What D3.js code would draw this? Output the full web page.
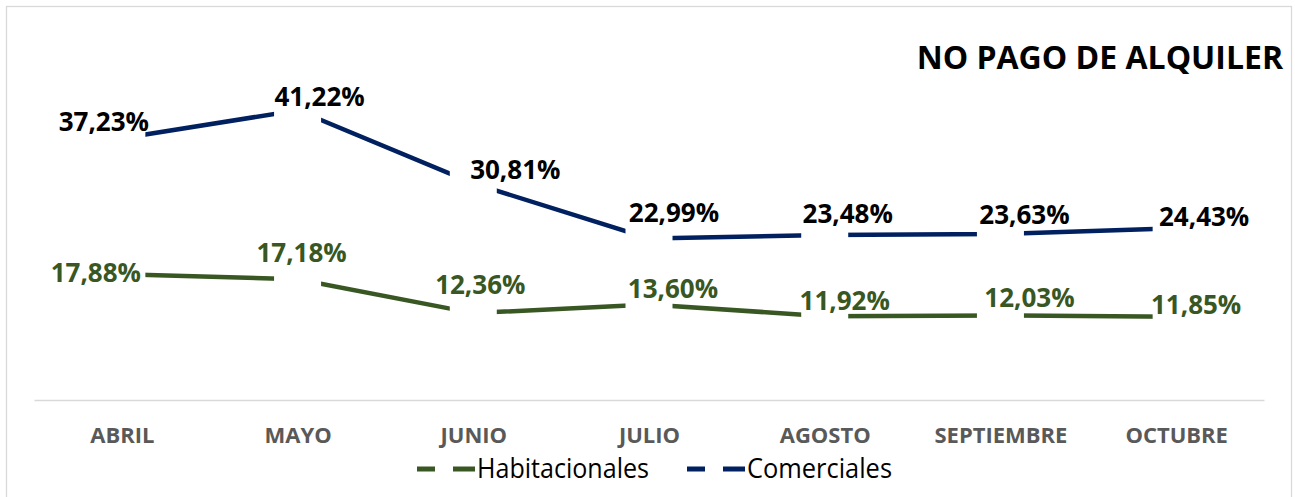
<!DOCTYPE html>
<html>
<head>
<meta charset="utf-8">
<script src="https://cdn.jsdelivr.net/npm/d3@7"></script>
<style>
  body { margin: 0; background: #fff; }
  svg { display: block; }
</style>
</head>
<body>
<div id="chart"></div>
<script>
// data
const months = ["ABRIL", "MAYO", "JUNIO", "JULIO", "AGOSTO", "SEPTIEMBRE", "OCTUBRE"]
const habitacionales = [17.88, 17.18, 12.36, 13.60, 11.92, 12.03, 11.85]
const comerciales = [37.23, 41.22, 30.81, 22.99, 23.48, 23.63, 24.43]
const seriesNames = ["Habitacionales", "Comerciales"]
const title = "NO PAGO DE ALQUILER"

// label placement (dx, dy from the point), moved by hand like in the original
const habLabelOffsets = [[-26, 8], [4, -17], [7, -19], [24, -6], [20, -6], [29, -8], [20, -3]]
const comLabelOffsets = [[-18, -7], [22, -4], [42, -4], [25, -16], [23, -12], [24, -10], [28, -2]]

const colors = { Habitacionales: "#385723", Comerciales: "#002060" }

const width = 1295
const height = 497

const svg = d3.select("#chart")
  .append("svg")
  .attr("width", width)
  .attr("height", height)

// chart frame
svg.append("rect")
  .attr("x", 6.5)
  .attr("y", 6.5)
  .attr("width", 1285)
  .attr("height", 520)
  .attr("fill", "#fff")
  .attr("stroke", "#d9d9d9")
  .attr("stroke-width", 1.3)

const xScale = d3.scalePoint()
  .domain(months)
  .range([34, 1264])
  .padding(0.5)

const yScale = d3.scaleLinear()
  .domain([0, 50])
  .range([400, 48.5])

const es = d3.formatLocale({ decimal: ",", thousands: ".", grouping: [3], currency: ["", "€"] })
const fmt = v => es.format(".2f")(v) + "%"

// x axis
const xAxis = svg.append("g")
  .attr("transform", "translate(0, 400)")
  .call(d3.axisBottom(xScale).tickSize(0).tickSizeOuter(0))
xAxis.select(".domain")
  .attr("stroke", "#d9d9d9")
  .attr("stroke-width", 1.5)
xAxis.selectAll("text")
  .attr("fill", "#595959")
  .style("font-family", "'Open Sans', sans-serif")
  .style("font-weight", "bold")
  .style("font-size", "22px")
  .attr("dy", "0")
  .attr("y", 43)

const series = [
  { name: "Habitacionales", values: habitacionales, offsets: habLabelOffsets },
  { name: "Comerciales", values: comerciales, offsets: comLabelOffsets },
]

const lineGenerator = d3.line()
  .x((d, i) => xScale(months[i]))
  .y(d => yScale(d))

series.forEach(s => {
  svg.append("path")
    .attr("d", lineGenerator(s.values))
    .attr("fill", "none")
    .attr("stroke", colors[s.name])
    .attr("stroke-width", 4.5)
})

// white square markers break the line around each point
const markerSize = 47
series.forEach(s => {
  svg.append("g")
    .selectAll("rect")
    .data(s.values)
    .join("rect")
    .attr("x", (d, i) => xScale(months[i]) - markerSize / 2)
    .attr("y", d => yScale(d) - markerSize / 2)
    .attr("width", markerSize)
    .attr("height", markerSize)
    .attr("fill", "#fff")
})

// data labels
series.forEach(s => {
  svg.append("g")
    .selectAll("text")
    .data(s.values)
    .join("text")
    .attr("x", (d, i) => xScale(months[i]) + s.offsets[i][0])
    .attr("y", (d, i) => yScale(d) + s.offsets[i][1])
    .attr("text-anchor", "middle")
    .attr("fill", s.name === "Comerciales" ? "#000" : colors[s.name])
    .style("font-family", "'Open Sans', sans-serif")
    .style("font-weight", "bold")
    .style("font-size", "26px")
    .text(d => fmt(d))
})

// title
svg.append("text")
  .attr("x", 1283)
  .attr("y", 69)
  .attr("text-anchor", "end")
  .style("font-family", "'Open Sans', sans-serif")
  .style("font-weight", "bold")
  .style("font-size", "32px")
  .attr("fill", "#000")
  .text(title)

// legend
const legendItems = [
  { name: seriesNames[0], x: 417, textWidth: 172 },
  { name: seriesNames[1], x: 687, textWidth: 145 },
]
const legend = svg.append("g")
  .attr("transform", "translate(0, 469)")

legendItems.forEach(item => {
  const g = legend.append("g").attr("transform", `translate(${item.x}, 0)`)
  g.append("line")
    .attr("x1", 0)
    .attr("x2", 58)
    .attr("stroke", colors[item.name])
    .attr("stroke-width", 5)
  g.append("rect")
    .attr("x", 18)
    .attr("y", -10)
    .attr("width", 18)
    .attr("height", 20)
    .attr("fill", "#fff")
  g.append("text")
    .attr("x", 60)
    .attr("y", 9)
    .attr("textLength", item.textWidth)
    .attr("lengthAdjust", "spacingAndGlyphs")
    .style("font-family", "'Liberation Sans Narrow', 'Open Sans', sans-serif")
    .style("font-size", "27px")
    .attr("fill", "#000")
    .text(item.name)
})
</script>
</body>
</html>
